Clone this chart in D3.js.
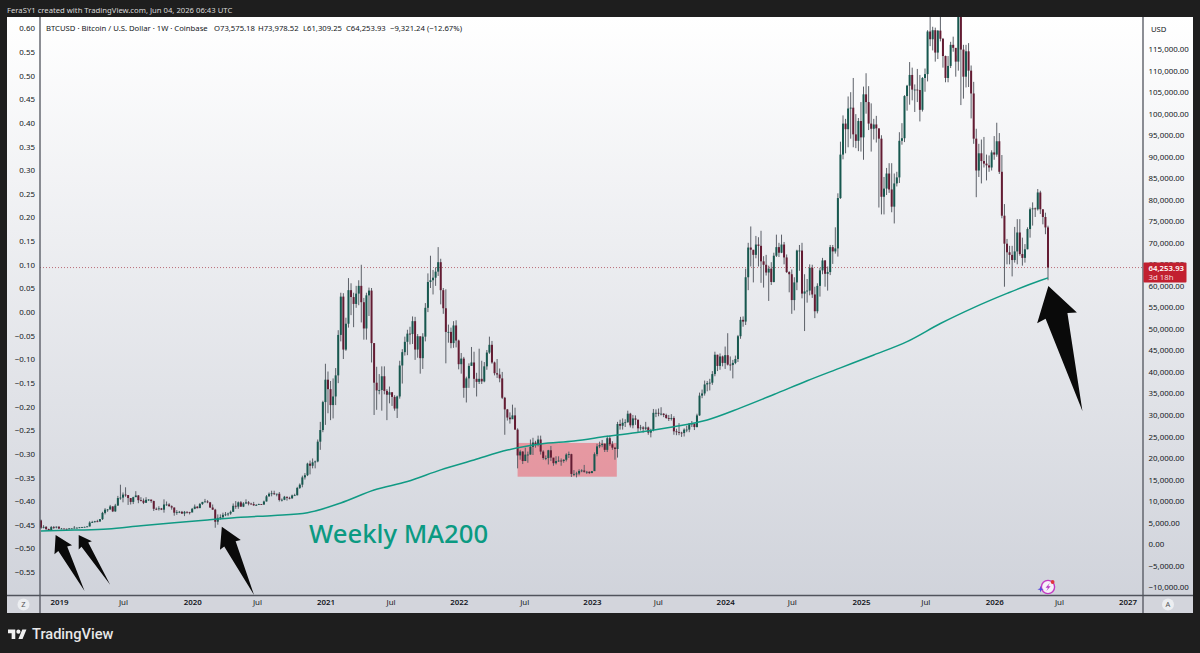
<!DOCTYPE html>
<html><head><meta charset="utf-8">
<script src="https://cdn.jsdelivr.net/npm/d3@7/dist/d3.min.js"></script>
<style>html,body{margin:0;padding:0;background:#1e1e1e;overflow:hidden}svg{display:block}text{font-family:"Noto Sans",sans-serif}</style>
</head><body><svg id="c" width="1200" height="653"></svg>
<script>
// Weekly candles, prices in thousands of USD. First week starts 2018-11-19; each open is the previous close.
const firstOpen = 5.5;
const closes = [
3.8,4.0,3.5,3.2,3.95,3.85,4.05,
3.6,3.6,3.55,3.45, 3.65,3.65,3.8,3.8, 3.9,3.95,4.0,4.1, 5.0,5.1,5.3,5.25,5.8, 7.25,8.0,8.05,8.75, 7.6,8.95,10.7,10.8,
11.5,11.4,10.7,9.8,10.9, 11.3,10.2,10.1,9.6, 10.3,10.35,10.0,8.2,8.15, 8.3,8.0,9.2,9.2, 8.8,8.5,7.3,7.4, 7.5,7.1,7.5,7.4,
7.35,8.2,8.7,8.35,9.3, 9.8,9.9,9.7,8.5, 8.0,5.2,6.1,6.25, 6.8,6.9,7.1,7.5,8.9, 8.7,9.7,8.7,9.45, 9.7,9.4,9.3,9.0,
9.1,9.3,9.2,9.9,11.1, 11.7,11.8,11.65,11.7, 10.25,10.3,11.0,10.75,10.65, 11.3,11.35,13.05,13.8, 15.5,16.0,18.7,18.2, 19.0,19.2,23.8,26.5,33.0,
38.2,36.0,32.3,34.3, 39.2,48.6,57.5,45.2, 51.2,59.0,57.4,55.8,58.2, 60.0,56.2,50.1,57.8, 58.9,46.7,37.5,35.7,35.8, 39.0,35.6,34.7,35.3,
34.2,31.5,34.3,41.5, 44.6,47.0,48.9,48.8,51.8, 45.2,48.3,43.2,48.2, 54.9,60.9,61.3,61.9, 63.3,65.5,59.0,54.8,49.3, 49.3,46.7,50.8,47.3,
41.8,43.1,36.3,38.5,41.4, 42.2,38.4,37.7,38.4, 37.8,41.3,44.5,46.3, 42.2,39.7,39.4,38.5, 34.0,31.3,29.4,29.0,29.9, 26.6,20.6,21.5,19.3,
20.8,20.8,22.6,23.6, 23.2,24.3,21.5,20.0,20.0, 21.8,20.1,18.8,19.3, 19.4,19.3,19.6,20.8,20.9, 16.3,16.3,16.4,17.0, 17.1,16.8,16.8,16.5,
16.95,20.9,22.7,23.0,23.3, 21.9,24.6,23.2,22.4, 22.1,27.9,27.5,28.2, 28.3,30.3,27.6,29.2, 28.9,26.9,27.1,26.8,27.1, 25.9,26.5,30.5,30.5,
30.3,30.3,30.0,29.3,29.1, 29.3,26.2,26.0,25.9, 25.8,26.6,26.6,28.0, 28.0,27.2,29.9,34.5,35.0, 37.1,37.4,37.5,39.5, 44.0,41.4,43.6,42.1,
43.9,41.7,41.6,42.1,43.0, 48.3,52.1,51.7,62.0, 68.9,68.4,67.2,69.6, 69.3,65.7,64.9,63.1,64.0, 60.9,67.0,69.0,67.7, 69.6,66.6,63.2,62.7,
56.7,60.8,68.2,68.2,58.2, 58.7,58.9,64.2,58.0, 54.1,60.0,63.6,65.9,62.8, 63.2,69.0,68.0,68.7, 80.4,90.5,97.7,96.4, 101.2,101.4,95.2,93.7,98.3,
94.5,104.5,102.7,97.7, 96.5,97.5,96.6,94.2, 80.7,82.6,86.1,82.4,78.4, 83.8,85.2,93.7,94.3, 104.1,106.5,109.0,105.6, 105.6,105.5,100.9,108.3,109.2,
119.1,117.3,119.4,114.2, 119.3,117.4,113.4,108.3, 111.1,116.0,115.3,112.1,123.5, 114.9,108.6,114.5,110.0, 104.7,94.2,86.8,90.8, 89.0,88.4,88.0,87.5,91.0,
90.5,93.6,86.5,76.3, 69.8,67.8,67.2,66.0, 68.0,72.4,67.4,66.5,68.5,73.2, 77.8,78.0,77.8,81.7, 77.8,76.0,73.575,64.25393
];
const highs = [
5.7,4.4,4.2,3.6,4.2,4.2,4.1,
4.1,3.75,3.65,3.6, 3.7,3.7,4.2,3.9, 3.95,4.0,4.05,4.15, 5.3,5.4,5.4,5.65,5.8, 7.5,8.35,8.15,9.1, 8.8,9.35,11.2,13.8,
12.0,13.2,11.1,10.6,11.0, 12.3,11.4,10.9,10.6, 10.9,10.45,10.3,10.1,8.5, 8.8,8.4,10.4,9.9, 9.5,9.0,8.5,7.9, 7.7,7.7,7.7,7.6,
7.5,8.4,9.2,8.8,9.55, 9.8,10.5,10.2,9.8, 9.2,8.2,6.9,6.9, 7.3,7.45,7.3,7.8,9.45, 10.0,9.9,10.0,9.75, 10.4,10.0,9.6,9.8,
9.3,9.4,9.3,10.1,11.4, 12.0,12.4,12.4,11.7, 12.1,10.6,11.2,11.0,11.0, 11.5,11.7,13.3,14.1, 15.9,16.5,18.9,19.4, 19.9,19.4,24.3,28.4,33.3,
41.9,40.1,37.9,38.5, 40.9,49.7,58.4,58.3, 52.6,61.8,60.6,58.4,60.0, 61.3,64.9,57.2,58.4, 59.6,59.5,46.7,41.2,39.5, 41.3,41.3,36.0,36.6,
35.1,34.6,34.5,42.6, 45.3,48.2,49.8,50.5,52.9, 52.8,48.8,48.0,49.0, 56.0,62.9,67.0,63.7, 64.3,69.0,66.3,59.5,59.2, 51.0,50.3,51.8,52.0,
47.5,44.4,43.5,38.9,42.0, 45.8,44.7,39.8,45.4, 42.6,42.3,45.1,48.2, 47.2,42.4,43.0,40.8, 40.0,34.2,31.4,30.6,32.4, 31.7,26.9,21.9,21.6,
22.4,21.5,24.3,24.7, 24.0,25.2,25.2,21.8,20.6, 21.9,22.8,19.9,20.4, 20.4,19.9,19.7,21.1,21.5, 21.0,17.2,16.8,17.4, 17.4,18.4,17.0,16.9,
17.0,21.3,23.3,23.8,24.2, 23.4,25.2,25.2,23.9, 22.6,28.4,28.9,29.2, 29.0,31.0,30.5,30.0, 29.9,28.9,27.7,27.4,28.4, 27.3,26.8,31.4,31.3,
31.5,31.8,30.4,30.3,30.0, 30.2,29.7,26.8,28.1, 26.1,26.9,27.5,28.1, 28.6,28.0,30.3,35.2,35.9, 38.0,37.9,38.4,40.2, 44.7,44.0,44.3,43.8,
45.9,49.0,43.6,42.8,43.8, 48.6,52.8,52.9,64.0, 70.0,73.8,68.0,71.6, 71.3,72.8,66.9,67.2,64.7, 65.5,67.7,71.9,70.0, 71.9,70.2,67.3,63.4,
63.8,62.0,68.4,69.5,70.0, 62.7,61.6,65.0,64.9, 59.8,60.6,64.2,66.5,66.0, 64.5,69.5,69.5,73.6, 81.5,93.5,99.6,98.8, 104.0,105.0,108.3,99.9,99.0,
102.7,106.3,109.4,106.4, 102.4,98.8,99.5,96.5, 95.0,85.3,87.4,88.5,88.5, 86.1,86.5,95.7,97.8, 104.3,106.7,112.0,110.7, 106.8,110.4,109.0,108.5,110.5,
119.4,123.2,120.2,120.0, 119.4,124.5,117.6,113.5, 113.4,116.7,117.9,113.5,125.5, 126.2,116.0,116.0,116.4, 111.2,107.4,96.5,93.0, 94.0,94.6,90.5,90.3,91.5,
94.8,97.9,95.5,90.4, 79.0,70.9,69.3,69.3, 73.7,75.5,75.5,71.2,69.7,73.6, 78.2,79.4,78.2,82.5, 82.1,77.7,77.0,73.98
];
const lows = [
3.5,3.65,3.25,3.15,3.2,3.5,3.65,
3.55,3.5,3.5,3.35, 3.4,3.6,3.65,3.7, 3.7,3.8,3.9,3.95, 4.1,4.9,5.0,5.1,5.2, 5.6,6.9,7.5,8.0, 7.45,7.5,8.9,10.3,
9.7,11.0,9.1,9.2,9.3, 11.0,9.5,9.9,9.3, 9.6,10.0,9.6,7.7,7.9, 7.8,7.9,7.3,8.9, 8.7,8.0,6.6,6.8, 7.2,7.0,6.5,7.1,
6.9,7.4,8.1,8.3,8.6, 9.1,9.7,9.5,8.4, 8.0,3.8,4.5,5.7, 6.0,6.5,6.5,6.8,7.6, 8.2,8.2,8.7,8.6, 9.3,9.0,9.2,8.9,
8.9,9.1,9.1,9.1,9.9, 11.0,11.1,11.4,11.1, 9.9,9.9,10.2,10.1,10.4, 10.5,11.2,11.3,12.8, 13.2,15.0,15.8,16.2, 17.6,17.6,19.0,21.9,26.0,
27.7,30.4,28.8,29.2, 32.3,37.4,47.1,43.0, 44.9,50.3,53.2,50.4,54.9, 55.5,51.5,47.5,47.5, 53.0,42.2,30.0,31.2,34.8, 31.0,34.8,28.8,32.7,
32.1,31.0,29.3,33.8, 37.3,43.8,43.9,46.4,46.5, 42.8,43.3,39.6,40.7, 47.1,53.9,59.5,58.0, 60.0,62.3,55.7,53.5,42.0, 46.8,45.5,45.6,45.7,
40.6,39.6,34.0,32.9,36.3, 41.7,36.3,34.3,37.2, 37.2,37.6,40.5,44.2, 41.9,39.2,38.6,37.6, 33.7,25.4,28.7,28.0,29.3, 26.6,17.6,19.6,18.6,
19.3,18.9,20.8,20.7, 22.4,22.7,20.8,19.6,19.5, 18.5,19.3,18.2,18.5, 19.1,18.2,18.9,19.2,20.0, 15.6,15.8,15.5,16.0, 16.7,16.6,16.3,16.3,
16.5,17.0,20.4,22.3,22.5, 21.4,21.4,22.8,21.9, 19.6,20.1,26.6,26.6, 27.2,28.2,27.1,26.9, 27.7,25.9,26.4,25.9,26.5, 25.4,24.8,26.2,29.5,
29.7,29.9,29.5,29.1,28.6, 28.7,25.4,25.3,25.3, 24.9,25.0,26.0,26.0, 27.2,26.5,27.1,29.8,33.9, 34.5,35.5,35.7,37.0, 39.0,40.2,40.5,41.3,
40.7,41.5,40.3,38.5,41.8, 42.3,47.7,50.5,50.9, 59.0,64.5,60.8,66.4, 64.5,60.7,59.6,62.4,56.5, 60.2,60.8,66.7,66.7, 67.6,65.0,63.0,58.5,
53.5,54.3,59.0,63.5,57.1, 49.5,56.1,57.8,57.2, 52.5,53.6,57.5,62.7,59.8, 58.9,62.5,65.1,67.5, 66.8,80.2,89.4,90.8, 92.2,94.2,92.2,92.0,91.3,
91.2,89.3,100.0,96.2, 91.2,94.0,93.3,78.2, 76.6,76.6,81.1,81.6,77.1, 74.5,83.1,83.9,92.8, 93.4,100.7,102.1,103.1, 100.4,102.7,98.2,100.5,105.1,
107.5,115.7,114.7,112.1, 112.7,116.8,110.7,107.3, 107.3,110.6,114.4,108.6,110.0, 102.0,103.5,106.1,106.2, 98.9,93.0,80.6,85.3, 83.8,87.5,84.5,86.5,86.8,
89.3,90.0,86.0,75.7, 59.8,65.0,65.0,62.2, 65.4,65.0,67.0,64.7,65.4,68.5, 71.2,74.0,76.0,77.5, 76.7,74.3,72.0,61.31
];
// 200-week moving average, read every 13 weeks (last reading at the final candle)
const maWeeks = [0,13,26,39,52,65,78,91,104,117,130,143,156,169,182,195,208,221,234,247,260,273,286,299,312,325,338,351,364,377,390,393];
const maValues = [3.05,3.25,3.5,4.25,4.95,5.6,6.25,6.65,7.3,9.55,12.55,14.55,17.25,19.55,21.85,23.25,23.95,25.05,26.05,27.25,28.85,31.65,34.75,37.95,40.95,43.95,47.05,51.25,54.95,58.25,61.25,61.85];
const priceTicks = [-10,-5,0,5,10,15,20,25,30,35,40,45,50,55,60,65,70,75,80,85,90,95,100,105,110,115];
const ratioTicks = [-0.55,-0.5,-0.45,-0.4,-0.35,-0.3,-0.25,-0.2,-0.15,-0.1,-0.05,0,0.05,0.1,0.15,0.2,0.25,0.3,0.35,0.4,0.45,0.5,0.55,0.6];
const dateTickLabels = ["2019","Jul","2020","Jul","2021","Jul","2022","Jul","2023","Jul","2024","Jul","2025","Jul","2026","Jul","2027"];
const dateTickDates = ["2019-01-07","2019-07-01","2020-01-06","2020-07-01","2021-01-04","2021-07-01","2022-01-03","2022-07-01","2023-01-02","2023-07-01","2024-01-01","2024-07-01","2025-01-06","2025-07-01","2026-01-05","2026-07-01","2027-01-04"];
const lastClose = 64.25393;
const boxDates = ["2022-06-13","2023-03-11"], boxPrices = [15.66,23.5];
const arrowTips = [["2018-12-29",2.11],["2019-03-02",2.11],["2020-03-27",4.04],["2026-06-02",59.97]];
const arrowTails = [["2019-03-18",-10.9],["2019-05-27",-9.43],["2020-06-23",-11.8],["2026-09-03",30.9]];
const headerText = "FeraSY1 created with TradingView.com, Jun 04, 2026 06:43 UTC";
const titleText = "BTCUSD · Bitcoin / U.S. Dollar · 1W · Coinbase";
const ohlcText = ["O73,575.18","H73,978.52","L61,309.25","C64,253.93","−9,321.24 (−12.67%)"];

const WEEK = 7*864e5, T0 = Date.UTC(2018,10,19);
const dt = s => new Date(s+"T00:00:00Z");
const dates = closes.map((_,i)=>new Date(T0+i*WEEK));
const P = {l:7,r:1193,t:17,b:613,sepL:40,sepR:1143,sepB:595.5};
const x = d3.scaleUtc().domain([dates[0],dates[dates.length-1]]).range([41,1048]);
const y = d3.scaleLinear().domain([0,100]).range([544.1,113.7]);
const yR = d3.scaleLinear().domain([0,0.6]).range([312,28.3]);
const svg = d3.select("#c");
const DARK="#131722", TICK=7.9;
const defs = svg.append("defs");
const g = defs.append("linearGradient").attr("id","bg").attr("x1",0).attr("x2",0).attr("y1",0).attr("y2",1);
g.append("stop").attr("offset","0%").attr("stop-color","#ffffff");
g.append("stop").attr("offset","100%").attr("stop-color","#cfd2da");
defs.append("clipPath").attr("id","plot").append("rect").attr("x",P.sepL).attr("y",P.t).attr("width",P.sepR-P.sepL).attr("height",P.sepB-P.t);

svg.append("rect").attr("width",1200).attr("height",653).attr("fill","#1e1e1e");
svg.append("rect").attr("x",P.l).attr("y",P.t).attr("width",P.r-P.l).attr("height",P.b-P.t).attr("fill","url(#bg)");
svg.append("rect").attr("x",P.l).attr("y",P.sepB).attr("width",P.r-P.l).attr("height",P.b-P.sepB).attr("fill","#d3d5dc");
svg.append("text").attr("x",7).attr("y",12.5).attr("fill","#d8d8d8").attr("font-size",7.7).text(headerText);

const plot = svg.append("g").attr("clip-path","url(#plot)");
// highlighted zone
plot.append("rect").attr("x",x(dt(boxDates[0]))).attr("width",x(dt(boxDates[1]))-x(dt(boxDates[0])))
  .attr("y",y(boxPrices[1])).attr("height",y(boxPrices[0])-y(boxPrices[1])).attr("fill","#f23645").attr("fill-opacity",.42);
// last price line
plot.append("line").attr("x1",P.sepL).attr("x2",P.sepR).attr("y1",y(lastClose)).attr("y2",y(lastClose))
  .attr("stroke","#b5606b").attr("stroke-width",.9).attr("stroke-dasharray","1 2");
// candles
const candles = closes.map((c,i)=>({d:dates[i],o:i?closes[i-1]:firstOpen,c,h:highs[i],l:lows[i]}));
const UP="#17584f", DOWN="#641c33", BW=2;
plot.append("g").selectAll("line").data(candles).join("line")
  .attr("x1",d=>x(d.d)).attr("x2",d=>x(d.d)).attr("y1",d=>y(d.h)).attr("y2",d=>y(d.l))
  .attr("stroke","#5c6068").attr("stroke-width",1);
plot.append("g").selectAll("rect").data(candles).join("rect")
  .attr("x",d=>x(d.d)-BW/2).attr("width",BW)
  .attr("y",d=>y(Math.max(d.o,d.c))).attr("height",d=>Math.max(.8,Math.abs(y(d.o)-y(d.c))))
  .attr("fill",d=>d.c>=d.o?UP:DOWN);
// MA200
const line = d3.line().x(d=>x(d.d)).y(d=>y(d.v)).curve(d3.curveMonotoneX);
plot.append("path").attr("d",line(maWeeks.map((w,i)=>({d:dates[w],v:maValues[i]}))))
  .attr("fill","none").attr("stroke","#109a84").attr("stroke-width",1.5);
// arrows
const heads=[[16.6,9.9,15.5,5],[12.3,7.8,11.5,4],[20,11.5,19,6.3],[33,20.6,31,11.3]];
arrowTips.forEach((t,i)=>{
  const tx=x(dt(t[0])),ty=y(t[1]),ex=x(dt(arrowTails[i][0])),ey=y(arrowTails[i][1]);
  const L=Math.hypot(ex-tx,ey-ty),u=[(ex-tx)/L,(ey-ty)/L],n=[u[1],-u[0]];
  const [hl,hw,nl,nw]=heads[i];
  const pt=(a,b)=>[tx+u[0]*a+n[0]*b,ty+u[1]*a+n[1]*b];
  svg.append("polygon").attr("fill","#0a0a0a")
    .attr("points",[[tx,ty],pt(hl,hw),pt(nl,nw),[ex,ey],pt(nl,-nw),pt(hl,-hw)].map(p=>p.join(",")).join(" "));
});
svg.append("text").attr("x",309).attr("y",543).attr("fill","#0b9a82").attr("font-size",25.7).attr("font-weight",500).text("Weekly MA200");

// legend
const leg=svg.append("g").attr("fill",DARK).attr("font-size",7.7);
leg.append("text").attr("x",46).attr("y",30.5).text(titleText);
const legX=[214,258,303,346,390];
ohlcText.forEach((s,i)=>leg.append("text").attr("x",legX[i]).attr("y",30.5).text(s));

// axes
const fmt = d3.format(",.2f");
const minus = s=>s.replace("-","−");
const axR = d3.axisRight(y).tickValues(priceTicks).tickSize(0).tickPadding(5.5).tickFormat(d=>minus(fmt(d*1000)));
const axL = d3.axisLeft(yR).tickValues(ratioTicks).tickSize(0).tickPadding(5).tickFormat(d=>minus(d3.format(".2f")(d)));
const axB = d3.axisBottom(x).tickValues(dateTickDates.map(dt)).tickSize(0).tickPadding(0).tickFormat((d,i)=>dateTickLabels[i]);
const gR=svg.append("g").attr("transform",`translate(${P.sepR},0)`).call(axR);
const gL=svg.append("g").attr("transform",`translate(${P.sepL},0)`).call(axL);
const gB=svg.append("g").attr("transform",`translate(0,${P.sepB+4})`).call(axB);
[gR,gL,gB].forEach(a=>{a.select(".domain").remove();a.selectAll("text").attr("fill",DARK).attr("font-size",TICK).style("font-family",'"Noto Sans",sans-serif');});
gB.selectAll("text").attr("font-weight",(d,i)=>dateTickLabels[i]==="Jul"?400:600);
svg.append("text").attr("x",1151).attr("y",32).attr("fill",DARK).attr("font-size",7.7).text("USD");

// frames
svg.append("line").attr("x1",P.sepL).attr("x2",P.sepL).attr("y1",P.t).attr("y2",P.b).attr("stroke","#50535c").attr("stroke-width",1.3);
svg.append("line").attr("x1",P.sepR).attr("x2",P.sepR).attr("y1",P.t).attr("y2",P.b).attr("stroke","#50535c").attr("stroke-width",1.3);
svg.append("line").attr("x1",P.l).attr("x2",P.r).attr("y1",P.sepB).attr("y2",P.sepB).attr("stroke","#50535c").attr("stroke-width",1.3);

// last price label
const ly=y(lastClose);
svg.append("rect").attr("x",P.sepR+.5).attr("y",ly-5).attr("width",43).attr("height",20).attr("fill","#c22030").attr("rx",1);
svg.append("text").attr("x",1148.5).attr("y",ly+3.3).attr("fill","#fff").attr("font-size",7.8).attr("font-weight",600).text(fmt(lastClose*1000));
svg.append("text").attr("x",1148.5).attr("y",ly+12.3).attr("fill","#f3d5d8").attr("font-size",7.8).text("3d 18h");

// Z / A buttons
[[23.5,"Z"],[1168,"A"]].forEach(([cx,s])=>{
  svg.append("circle").attr("cx",cx).attr("cy",604.5).attr("r",6).attr("fill","#eceef1");
  svg.append("text").attr("x",cx).attr("y",607.3).attr("text-anchor","middle").attr("fill","#555").attr("font-size",7.5).text(s);
});

// event icon
const ic=svg.append("g").attr("transform","translate(1048,587)");
ic.append("circle").attr("r",6.6).attr("fill","#f5f0f8").attr("stroke","#c33ac4").attr("stroke-width",1.4);
ic.append("path").attr("d","M1.8,-4 L-2.4,0.8 L0,0.8 L-1.6,4 L2.6,-0.8 L0.2,-0.8 Z").attr("fill","#b637c4");
ic.append("circle").attr("cx",4.6).attr("cy",-5).attr("r",1.9).attr("fill","#e0353f");
ic.append("path").attr("d","M-7.4,-1.2 L-6.6,1.4 L-4.2,2.2 L-6.6,3 L-7.4,5.4 L-8.2,3 L-10.6,2.2 L-8.2,1.4 Z").attr("fill","#5b4bdc");

// footer logo
const lg=svg.append("g").attr("transform","translate(8,627.5) scale(.52)").attr("fill","#f0f0f0");
lg.append("path").attr("d","M14 22H7V11H0V4h14v18zM28 22h-8l7.5-18h8L28 22z");
lg.append("circle").attr("cx",20).attr("cy",8).attr("r",4);
svg.append("text").attr("x",32).attr("y",638.5).attr("fill","#e8e8e8").attr("font-size",14.6).attr("font-weight",500).style("font-family","Roboto,sans-serif").text("TradingView");
</script></body></html>
